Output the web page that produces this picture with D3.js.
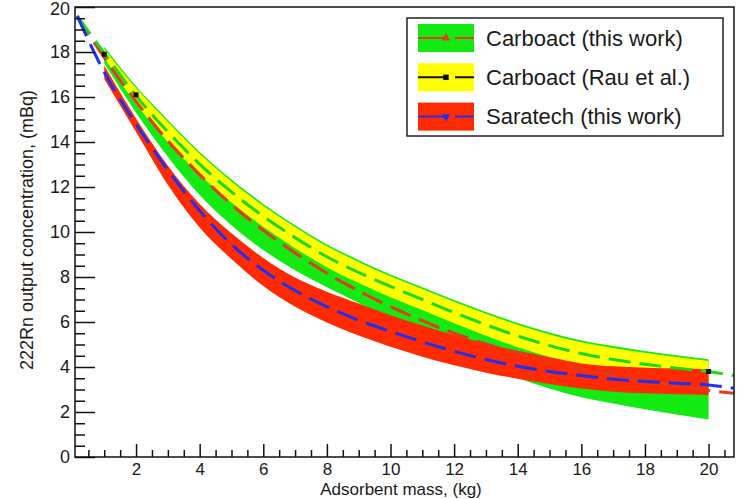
<!DOCTYPE html>
<html>
<head>
<meta charset="utf-8">
<script src="https://cdn.jsdelivr.net/npm/d3@7"></script>
<style>
  body { margin: 0; background: #fff; }
  text { font-family: "Liberation Sans", Arial, sans-serif; fill: #1a1a1a; }
</style>
</head>
<body>
<div id="wrapper"></div>
<script>
// Adsorbent masses where the error bands are known (kg)
const bandX = [1, 2, 3, 4, 5, 6, 7, 8, 9, 10, 11, 12, 13, 14, 15, 16, 17, 18, 19, 20]
// Carboact (this work) band, green
const carboactLow  = [17.5, 15.3, 13.35, 11.65, 10.3, 9.2, 8.3, 7.55, 6.85, 6.05, 5.3, 4.6, 4.0, 3.5, 3.05, 2.66, 2.38, 2.12, 1.89, 1.67]
const carboactHigh = [18.23, 16.48, 14.98, 13.56, 12.33, 11.25, 10.3, 9.45, 8.75, 8.11, 7.55, 6.98, 6.45, 5.96, 5.53, 5.18, 4.93, 4.71, 4.52, 4.35]
// Carboact (Rau et al.) band, yellow
const rauLow  = [17.75, 15.7, 14.0, 12.56, 11.31, 10.23, 9.28, 8.43, 7.73, 7.1, 6.53, 5.94, 5.39, 4.88, 4.45, 4.1, 3.81, 3.61, 3.46, 3.33]
const rauHigh = [18.15, 16.4, 14.9, 13.48, 12.25, 11.17, 10.22, 9.37, 8.67, 8.03, 7.47, 6.9, 6.37, 5.88, 5.45, 5.1, 4.85, 4.63, 4.44, 4.27]
// Saratech (this work) band, red
const saratechLow  = [16.8, 14.45, 12.1, 10.2, 8.8, 7.6, 6.68, 5.98, 5.4, 4.9, 4.46, 4.08, 3.75, 3.48, 3.25, 3.04, 2.9, 2.83, 2.79, 2.76]
const saratechHigh = [17.4, 15.05, 12.95, 11.25, 9.95, 8.85, 7.98, 7.35, 6.82, 6.3, 5.85, 5.42, 5.03, 4.72, 4.43, 4.16, 4.03, 3.97, 3.93, 3.9]

// Fitted curves (dashed), sampled across the whole axis
const lineX = [0.15, 1, 2, 3, 4, 5, 6, 7, 8, 9, 10, 11, 12, 13, 14, 15, 16, 17, 18, 19, 20, 20.8]
const carboactFit = [19.6, 17.75, 15.8, 14.05, 12.55, 11.22, 10.07, 9.07, 8.17, 7.38, 6.68, 6.06, 5.5, 5.02, 4.61, 4.24, 3.92, 3.63, 3.38, 3.16, 2.96, 2.83]
const rauFit      = [19.6, 17.95, 16.05, 14.45, 13.02, 11.78, 10.7, 9.75, 8.9, 8.2, 7.58, 7.0, 6.42, 5.88, 5.38, 4.95, 4.6, 4.33, 4.12, 3.95, 3.8, 3.62]
const saratechFit = [19.6, 17.1, 14.8, 12.75, 10.95, 9.45, 8.3, 7.4, 6.68, 6.08, 5.58, 5.12, 4.7, 4.33, 4.03, 3.8, 3.62, 3.46, 3.36, 3.28, 3.2, 3.06]

// Rau et al. points that show up outside the bands
const rauMarkX = [1, 2, 20]
const rauMarkY = [17.9, 16.1, 3.8]

const xTicks = [2, 4, 6, 8, 10, 12, 14, 16, 18, 20]
const yTicks = [0, 2, 4, 6, 8, 10, 12, 14, 16, 18, 20]
const legendLabels = ["Carboact (this work)", "Carboact (Rau et al.)", "Saratech (this work)"]

const dimensions = {
  width: 743,
  height: 499,
  margin: { top: 7, right: 9, bottom: 42, left: 75 },
}
dimensions.boundedWidth = dimensions.width - dimensions.margin.left - dimensions.margin.right
dimensions.boundedHeight = dimensions.height - dimensions.margin.top - dimensions.margin.bottom

function drawChart() {
  const wrapper = d3.select("#wrapper")
    .append("svg")
      .attr("width", dimensions.width)
      .attr("height", dimensions.height)

  const bounds = wrapper.append("g")
    .attr("transform", `translate(${dimensions.margin.left},${dimensions.margin.top})`)

  const xScale = d3.scaleLinear()
    .domain([0.08, 20.8])
    .range([0, dimensions.boundedWidth])
  const yScale = d3.scaleLinear()
    .domain([0, 20])
    .range([dimensions.boundedHeight, 0])

  bounds.append("clipPath").attr("id", "clip")
    .append("rect")
      .attr("width", dimensions.boundedWidth)
      .attr("height", dimensions.boundedHeight)

  const plot = bounds.append("g").attr("clip-path", "url(#clip)")

  // bands: green first, then yellow, then red on top (as in the original)
  const bandArea = d3.area()
    .x(d => xScale(d.x))
    .y0(d => yScale(d.lo))
    .y1(d => yScale(d.hi))
    .curve(d3.curveMonotoneX)
  const bands = [
    { lo: carboactLow, hi: carboactHigh, color: "#12ea12" },
    { lo: rauLow, hi: rauHigh, color: "#ffff00" },
    { lo: saratechLow, hi: saratechHigh, color: "#ff2a00" },
  ]
  bands.forEach(b => {
    const rows = bandX.map((x, i) => ({ x, lo: b.lo[i], hi: b.hi[i] }))
    plot.append("path")
      .attr("d", bandArea(rows))
      .attr("fill", b.color)
  })

  // dashed fit lines
  const lineGenerator = d3.line()
    .x(d => xScale(d.x))
    .y(d => yScale(d.y))
    .curve(d3.curveMonotoneX)
  const fits = [
    { ys: carboactFit, color: "#e8381c" },
    { ys: rauFit, color: "#1ad81a" },
    { ys: saratechFit, color: "#2030ee" },
  ]
  fits.forEach(f => {
    plot.append("path")
      .attr("d", lineGenerator(lineX.map((x, i) => ({ x, y: f.ys[i] }))))
      .attr("fill", "none")
      .attr("stroke", f.color)
      .attr("stroke-width", 3)
      .attr("stroke-dasharray", "22 9")
  })

  plot.selectAll(".rau-mark")
    .data(rauMarkX.map((x, i) => ({ x, y: rauMarkY[i] })))
    .join("rect")
      .attr("x", d => xScale(d.x) - 2.5)
      .attr("y", d => yScale(d.y) - 2.5)
      .attr("width", 5)
      .attr("height", 5)
      .attr("fill", "#111")

  // axes, ticks drawn inside the frame like ROOT does
  const minorX = d3.range(0.5, 20.8, 0.5).filter(v => v % 2 != 0)
  const minorY = d3.range(0.5, 20, 0.5).filter(v => v % 2 != 0)

  const xAxis = bounds.append("g")
    .attr("transform", `translate(0,${dimensions.boundedHeight})`)
    .call(d3.axisBottom(xScale).tickValues(xTicks).tickSize(-13).tickPadding(6).tickFormat(d3.format("d")))
  bounds.append("g")
    .attr("transform", `translate(0,${dimensions.boundedHeight})`)
    .call(d3.axisBottom(xScale).tickValues(minorX).tickSize(-7).tickFormat(""))

  const yAxis = bounds.append("g")
    .call(d3.axisLeft(yScale).tickValues(yTicks).tickSize(-20).tickPadding(5).tickFormat(d3.format("d")))
  bounds.append("g")
    .call(d3.axisLeft(yScale).tickValues(minorY).tickSize(-10).tickFormat(""))

  bounds.selectAll(".domain").remove()
  bounds.selectAll(".tick line").attr("stroke", "#111").attr("stroke-width", 1.5)
  xAxis.selectAll("text").style("font-size", "17px").attr("fill", "#1a1a1a")
  yAxis.selectAll("text").style("font-size", "18px").attr("fill", "#1a1a1a")
  // top label sits on the frame edge; nudge it so it is not clipped
  yAxis.selectAll(".tick").filter(d => d == 20).select("text").attr("dy", "0.42em")

  // frame
  bounds.append("rect")
    .attr("width", dimensions.boundedWidth)
    .attr("height", dimensions.boundedHeight)
    .attr("fill", "none")
    .attr("stroke", "#111")
    .attr("stroke-width", 1.5)

  // axis titles
  wrapper.append("text")
    .attr("x", 401)
    .attr("y", 495)
    .attr("text-anchor", "middle")
    .style("font-size", "17px")
    .text("Adsorbent mass, (kg)")
  wrapper.append("text")
    .attr("transform", "translate(33,230) rotate(-90)")
    .attr("text-anchor", "middle")
    .style("font-size", "18px")
    .text("222Rn output concentration, (mBq)")

  // legend
  const legend = wrapper.append("g").attr("transform", "translate(407,18)")
  legend.append("rect")
    .attr("width", 316)
    .attr("height", 118)
    .attr("fill", "#fff")
    .attr("stroke", "#222")
    .attr("stroke-width", 1.5)
  const legendItems = [
    { fill: "#12ea12", line: "#e8381c", marker: d3.symbolTriangle, rot: 0 },
    { fill: "#ffff00", line: "#111", marker: d3.symbolSquare, rot: 0 },
    { fill: "#ff2a00", line: "#2030ee", marker: d3.symbolTriangle, rot: 180 },
  ]
  legendItems.forEach((item, i) => {
    const cy = 20 + i * 39.3
    legend.append("rect")
      .attr("x", 11).attr("y", cy - 14)
      .attr("width", 56).attr("height", 28)
      .attr("fill", item.fill)
    legend.append("line")
      .attr("x1", 11).attr("x2", 67)
      .attr("y1", cy).attr("y2", cy)
      .attr("stroke", item.line)
      .attr("stroke-width", 2)
      .attr("stroke-dasharray", "30 7")
    legend.append("path")
      .attr("d", d3.symbol(item.marker, 30)())
      .attr("transform", `translate(39,${cy}) rotate(${item.rot})`)
      .attr("fill", item.line)
    legend.append("text")
      .attr("x", 79)
      .attr("y", cy)
      .attr("dy", "0.35em")
      .style("font-size", "22px")
      .text(legendLabels[i])
  })
}

drawChart()
</script>
</body>
</html>
